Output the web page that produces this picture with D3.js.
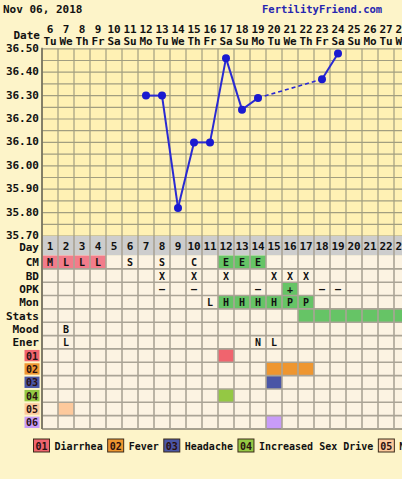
<!DOCTYPE html>
<html>
<head>
<meta charset="utf-8">
<script src="https://d3js.org/d3.v7.min.js"></script>
<style>
  body { margin: 0; background: #fdf4c9; overflow: hidden; }
  text { font-family: "DejaVu Sans Mono", monospace; font-weight: bold; }
</style>
</head>
<body>
<div id="chart"></div>
<script>
// chart data
const chartDate = "Nov 06, 2018";
const siteName = "FertilityFriend.com";
const cycleDays = [1,2,3,4,5,6,7,8,9,10,11,12,13,14,15,16,17,18,19,20,21,22,23,24];
const dates = [6,7,8,9,10,11,12,13,14,15,16,17,18,19,20,21,22,23,24,25,26,27,28,29];
const weekdays = ["Tu","We","Th","Fr","Sa","Su","Mo","Tu","We","Th","Fr","Sa","Su","Mo","Tu","We","Th","Fr","Sa","Su","Mo","Tu","We","Th"];
const tempLabels = [35.70, 35.80, 35.90, 36.00, 36.10, 36.20, 36.30, 36.40, 36.50];
const temps = [null,null,null,null,null,null,36.30,36.30,35.82,36.10,36.10,36.46,36.24,36.29,null,null,null,36.37,36.48];

const cmRow   = ["M","L","L","L","","S","","S","","C","","E","E","E"];
const bdRow   = ["","","","","","","","X","","X","","X","","","X","X","X"];
const opkRow  = ["","","","","","","","-","","-","","","","-","","+","","-","-"];
const monRow  = ["","","","","","","","","","","L","H","H","H","H","P","P"];
const statsDays = [17,18,19,20,21,22,23,24];
const moodRow = ["","B"];
const enerRow = ["","L","","","","","","","","","","","","N","L"];

const symptomCodes = ["01","02","03","04","05","06"];
const symptomNames = ["Diarrhea","Fever","Headache","Increased Sex Drive","Nausea","Cramps"];
const symptomDays = [[12],[15,16,17],[15],[12],[2],[15]];

// styles
const symptomColors = ["#f0646e","#ee9630","#4a56a6","#94c844","#fdc99c","#c89cf8"];
const rowFills = {
    "CM":  {"M":"#f27c8a","L":"#f27c8a","E":"#66c466"},
    "OPK": {"+":"#66c466"},
    "Mon": {"H":"#66c466","P":"#66c466"}
};

const WIDTH = 402, HEIGHT = 479;
const plotTop = 48.8, plotBottom = 236, dayRowBottom = 255.5, tableBottom = 429;
const left = 42, colW = 16;

let svg = d3.select("#chart")
    .append("svg")
    .attr("width", WIDTH)
    .attr("height", HEIGHT);

svg.append("rect").attr("width", WIDTH).attr("height", HEIGHT).attr("fill", "#fdf4c9");

let x = d3.scaleBand()
    .domain(cycleDays)
    .range([left, left + colW * cycleDays.length]);

let y = d3.scaleLinear()
    .domain([35.70, 36.50])
    .range([plotBottom, plotTop]);

// header
svg.append("text").attr("x", 3).attr("y", 13).style("font-size", "11px").attr("fill", "#111").text(chartDate);
svg.append("text").attr("x", 262).attr("y", 13).style("font-size", "10.5px").attr("fill", "#2626b0").text(siteName);

svg.append("text").attr("x", 40).attr("y", 39).attr("text-anchor", "end").style("font-size", "11px").attr("fill", "#111").text("Date");

svg.selectAll(".dnum").data(cycleDays).enter().append("text")
    .attr("x", d => x(d) + colW / 2)
    .attr("y", 33)
    .attr("text-anchor", "middle")
    .style("font-size", "11px")
    .attr("fill", "#111")
    .text((d, i) => dates[i]);

svg.selectAll(".wday").data(cycleDays).enter().append("text")
    .attr("x", d => x(d) + colW / 2)
    .attr("y", 45)
    .attr("text-anchor", "middle")
    .style("font-size", "11px")
    .attr("fill", "#111")
    .text((d, i) => weekdays[i]);

// temperature plot
svg.append("rect")
    .attr("x", left).attr("y", plotTop)
    .attr("width", WIDTH - left).attr("height", plotBottom - plotTop)
    .attr("fill", "#fff1b4");

let grid = svg.append("g").attr("stroke", "#a29e80").attr("stroke-width", 1.2);
grid.selectAll("line.h").data(y.ticks(16)).enter().append("line")
    .attr("x1", left).attr("x2", WIDTH)
    .attr("y1", d => y(d)).attr("y2", d => y(d));
grid.selectAll("line.v").data(cycleDays).enter().append("line")
    .attr("x1", d => x(d)).attr("x2", d => x(d))
    .attr("y1", plotTop).attr("y2", plotBottom);
svg.append("line").attr("x1", left).attr("x2", left).attr("y1", plotTop - 1).attr("y2", plotBottom)
    .attr("stroke", "#6e6a58").attr("stroke-width", 1.5);

svg.selectAll(".tlab").data(tempLabels).enter().append("text")
    .attr("x", 39)
    .attr("y", d => y(d) + 3)
    .attr("text-anchor", "end")
    .style("font-size", "11px")
    .attr("fill", "#111")
    .text(d => d.toFixed(2));

// temperature line: solid between consecutive days, dashed over gaps
let pts = temps.map((t, i) => ({day: cycleDays[i], t: t})).filter(d => d.t !== null);
let line = d3.line().x(d => x(d.day) + colW / 2).y(d => y(d.t));
for (let i = 1; i < pts.length; i++) {
    let gap = pts[i].day - pts[i - 1].day > 1;
    svg.append("path")
        .attr("d", line([pts[i - 1], pts[i]]))
        .attr("fill", "none")
        .attr("stroke", "#2a2ad2")
        .attr("stroke-width", gap ? 1.6 : 2)
        .attr("stroke-dasharray", gap ? "4,3" : null);
}
svg.selectAll(".pt").data(pts).enter().append("circle")
    .attr("cx", d => x(d.day) + colW / 2)
    .attr("cy", d => y(d.t))
    .attr("r", 4)
    .attr("fill", "#1a1ad0");

// day row
svg.append("rect")
    .attr("x", left).attr("y", plotBottom)
    .attr("width", WIDTH - left).attr("height", dayRowBottom - plotBottom)
    .attr("fill", "#cdcdcd");
svg.append("text").attr("x", 39).attr("y", 251).attr("text-anchor", "end").style("font-size", "11px").attr("fill", "#111").text("Day");
svg.selectAll(".cday").data(cycleDays).enter().append("text")
    .attr("x", d => x(d) + colW / 2)
    .attr("y", 250)
    .attr("text-anchor", "middle")
    .style("font-size", "11px")
    .attr("fill", "#111")
    .text(d => d);

// table rows
const rowNames = ["CM","BD","OPK","Mon","Stats","Mood","Ener"].concat(symptomCodes);
const rowText = {"CM": cmRow, "BD": bdRow, "OPK": opkRow, "Mon": monRow, "Mood": moodRow, "Ener": enerRow};

let yRow = d3.scaleBand()
    .domain(rowNames)
    .range([dayRowBottom, tableBottom]);

svg.append("rect")
    .attr("x", left).attr("y", dayRowBottom)
    .attr("width", WIDTH - left).attr("height", tableBottom - dayRowBottom)
    .attr("fill", "#fcf3e2");

let cells = [];
rowNames.forEach(function(r) {
    let vals = rowText[r] || [];
    cycleDays.forEach(function(d, i) {
        let v = vals[i] || "";
        let fill = null;
        if (rowFills[r] && rowFills[r][v]) fill = rowFills[r][v];
        if (r === "Stats" && statsDays.includes(d)) fill = "#66c466";
        let si = symptomCodes.indexOf(r);
        if (si >= 0 && symptomDays[si].includes(d)) fill = symptomColors[si];
        cells.push({row: r, day: d, text: v, fill: fill});
    });
});

svg.selectAll(".cell").data(cells.filter(c => c.fill)).enter().append("rect")
    .attr("x", d => x(d.day))
    .attr("y", d => yRow(d.row))
    .attr("width", colW)
    .attr("height", yRow.bandwidth())
    .attr("fill", d => d.fill);

let tgrid = svg.append("g").attr("stroke", "#aaa496").attr("stroke-width", 1.6);
tgrid.selectAll("line.h").data(rowNames.slice(1)).enter().append("line")
    .attr("x1", left).attr("x2", WIDTH)
    .attr("y1", d => yRow(d)).attr("y2", d => yRow(d));
tgrid.append("line").attr("x1", left).attr("x2", WIDTH).attr("y1", tableBottom).attr("y2", tableBottom).attr("stroke", "#8a8476");
tgrid.selectAll("line.v").data(cycleDays).enter().append("line")
    .attr("x1", d => x(d)).attr("x2", d => x(d))
    .attr("y1", plotBottom).attr("y2", tableBottom);
svg.append("line").attr("x1", left).attr("x2", left).attr("y1", plotBottom).attr("y2", tableBottom)
    .attr("stroke", "#6e6a58").attr("stroke-width", 1.5);

svg.selectAll(".ctext").data(cells.filter(c => c.text)).enter().append("text")
    .attr("x", d => x(d.day) + colW / 2)
    .attr("y", d => yRow(d.row) + yRow.bandwidth() / 2 + 4)
    .attr("text-anchor", "middle")
    .style("font-size", "10px")
    .attr("fill", "#111")
    .text(d => d.text === "-" ? "\u2013" : d.text);

svg.selectAll(".rlab").data(rowNames.slice(0, 7)).enter().append("text")
    .attr("x", 39)
    .attr("y", d => yRow(d) + yRow.bandwidth() / 2 + 4)
    .attr("text-anchor", "end")
    .style("font-size", "11px")
    .attr("fill", "#111")
    .text(d => d);

let slab = svg.selectAll(".slab").data(symptomCodes).enter().append("g");
slab.append("rect")
    .attr("x", 24.5)
    .attr("y", d => yRow(d) + 1)
    .attr("width", 15)
    .attr("height", yRow.bandwidth() - 2)
    .attr("fill", (d, i) => symptomColors[i]);
slab.append("text")
    .attr("x", 32)
    .attr("y", d => yRow(d) + yRow.bandwidth() / 2 + 4)
    .attr("text-anchor", "middle")
    .style("font-size", "10px")
    .attr("fill", "#2a1010")
    .text(d => d);

// legend
let lx = 33.5;
symptomCodes.forEach(function(code, i) {
    svg.append("rect")
        .attr("x", lx).attr("y", 439)
        .attr("width", 16).attr("height", 13)
        .attr("fill", symptomColors[i])
        .attr("stroke", "#3a2a1a").attr("stroke-width", 1);
    svg.append("text").attr("x", lx + 8).attr("y", 449.5).attr("text-anchor", "middle")
        .style("font-size", "10px").attr("fill", "#2a1010").text(code);
    let t = svg.append("text").attr("x", lx + 21).attr("y", 449.5)
        .style("font-size", "10px").attr("fill", "#111").text(symptomNames[i]);
    lx += 21 + t.node().getComputedTextLength() + 5;
});
</script>
</body>
</html>
